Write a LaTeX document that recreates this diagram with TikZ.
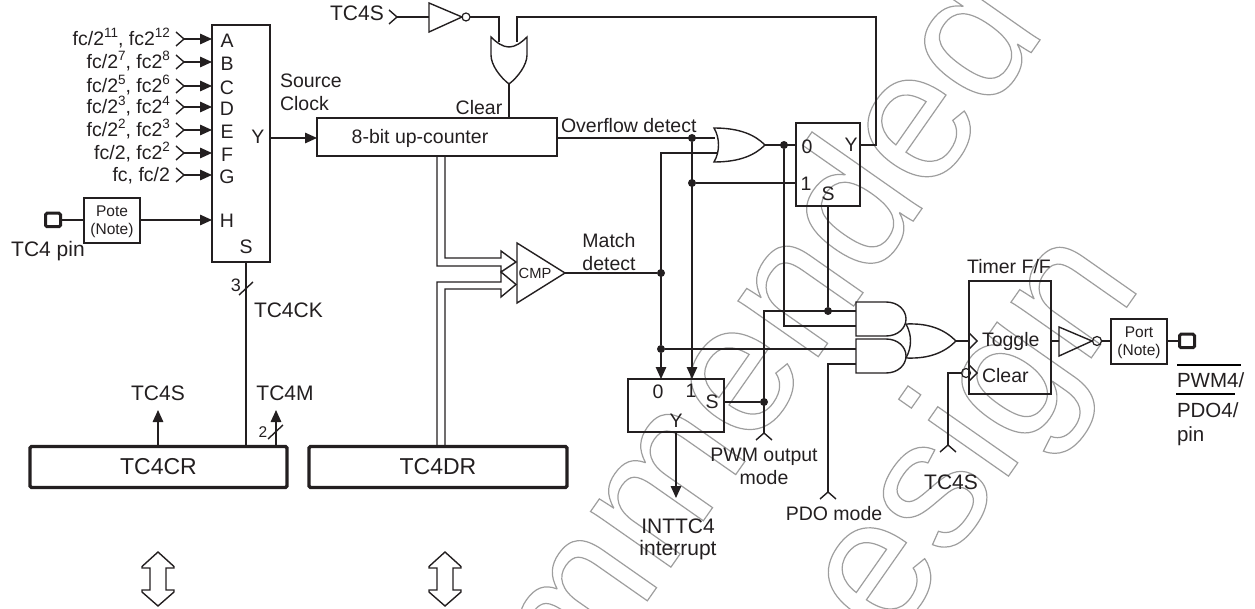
\documentclass[tikz,border=0pt]{standalone}
\usepackage{fontspec}
\setmainfont{Liberation Sans}
\usetikzlibrary{arrows.meta}
\definecolor{ink}{HTML}{231F20}
\newcommand{\supt}[1]{\raisebox{0.42em}{\fontsize{13.5}{13}\selectfont #1}}
\newcommand{\wmon}{\special{pdf:code 1 Tr 1.2 w 0.62 0.62 0.62 RG}}
\newcommand{\wmoff}{\special{pdf:code 0 Tr}}
\tikzset{
  lin/.style={draw=ink,line width=1.4pt,line join=miter},
  arr/.style={lin,-{Triangle[length=12pt,width=10.5pt]}},
  txt/.style={inner sep=0pt,outer sep=0pt,text=ink,anchor=base,yshift=-7pt,font=\fontsize{19.5}{22}\selectfont},
  txtl/.style={txt,anchor=base west},
  txtr/.style={txt,anchor=base east},
  tcfont/.style={font=\fontsize{21}{24}\selectfont},
  small/.style={inner sep=0pt,outer sep=0pt,text=ink,anchor=base,yshift=-5.5pt,font=\fontsize{15.5}{18}\selectfont},
  blk/.style={lin,rectangle,inner sep=0pt,outer sep=0pt},
  reg/.style={draw=ink,line width=3.2pt,rounded corners=1.5pt,rectangle,inner sep=0pt,outer sep=0pt,minimum width=#1,minimum height=41pt,font=\fontsize{23}{26}\selectfont,text=ink},
  pinbox/.style={draw=ink,line width=3pt,rounded corners=1.5pt,rectangle,inner sep=0pt,outer sep=0pt,minimum width=15pt,minimum height=13.5pt},
  dot/.style={circle,fill=ink,inner sep=0pt,outer sep=0pt,minimum size=8pt},
  bub/.style={circle,draw=ink,line width=1.2pt,fill=none,inner sep=0pt,outer sep=0pt,minimum size=8pt},
  wm/.style={inner sep=0pt,outer sep=0pt,rotate=55,anchor=base east,font=\fontsize{185}{185}\selectfont},
  hollow/.style={draw=ink,line width=1.4pt,line join=miter}
}
\begin{document}
\begin{tikzpicture}[x=1pt,y=-1pt]
\useasboundingbox (0,0) rectangle (1255,609);
% ---- watermark
\begin{scope}
\clip (0,0) rectangle (1255,609);
\node[wm] (wmone) at (1047,30) {\wmon mmended\wmoff};
\node[wm] (wmtwo) at (1143,284) {\wmon esign\wmoff};
\end{scope}
% ---- boxes
\node[blk,minimum width=58pt,minimum height=237pt] (mux) at (241,143.5) {};
\node[blk,minimum width=56pt,minimum height=45pt,align=center] (pote) at (112,220.5) {};
\node[small] (potea) at (112,211) {Pote};
\node[small] (poteb) at (112,229) {(Note)};
\node[pinbox] (pinin) at (53,220) {};
\node[txt,tcfont] (pinlab) at (48,250) {TC4 pin};
\node[blk,minimum width=240pt,minimum height=38pt] (cnt) at (437,137) {};
\node[txt] (cntlab) at (420,137) {8-bit up-counter};
\node[txt] (clearlab) at (479,108) {Clear};
\node[txtl] (ovf) at (561,126) {Overflow detect};
\node[txtl] (src1) at (280,81) {Source};
\node[txtl] (src2) at (280,104) {Clock};
\node[blk,minimum width=64pt,minimum height=83pt] (ffa) at (828,164.5) {};
\node[blk,minimum width=96pt,minimum height=53pt] (ffb) at (676,405.5) {};
\node[blk,minimum width=82pt,minimum height=113pt] (tff) at (1010,337.5) {};
\node[txt] (tfflab) at (1009,267) {Timer F/F};
\node[blk,minimum width=56pt,minimum height=45pt] (port) at (1139,341.5) {};
\node[small] (porta) at (1139,332) {Port};
\node[small] (portb) at (1139,350) {(Note)};
\node[pinbox] (pinout) at (1187,341) {};
\node[reg=257pt] (cr) at (158.5,467) {TC4CR};
\node[reg=258pt] (dr) at (438,467) {TC4DR};
% ---- mux inputs
\foreach \nm/\yy/\lt/\ll in {
  A/39/A/{fc/2\supt{11}, fc2\supt{12}},
  B/62/B/{fc/2\supt{7}, fc2\supt{8}},
  C/86/C/{fc/2\supt{5}, fc2\supt{6}},
  D/107/D/{fc/2\supt{3}, fc2\supt{4}},
  E/130/E/{fc/2\supt{2}, fc2\supt{3}},
  F/153/F/{fc/2, fc2\supt{2}},
  G/175/G/{fc, fc/2}}{
  \coordinate (in\nm) at (184,\yy);
  \draw[lin] (in\nm) ++(-8,-7) -- (in\nm) -- ++(-8,7);
  \draw[arr] (in\nm) -- (mux.west |- in\nm);
  \node[txt] (let\nm) at (227,\yy+2) {\lt};
  \node[txtr] (lab\nm) at (170,\yy) {\ll};
}
\node[txt] (letH) at (227,221) {H};
\node[txt] (letS) at (246,247) {S};
\node[txt] (letY) at (258,137) {Y};
\draw[lin] (pinin.east) -- (pote.west |- pinin.east);
\draw[arr] (pote.east |- pinin.east) -- (mux.west |- pinin.east);
\coordinate (yout) at (270,138);
\draw[arr] (yout) -- (cnt.west |- yout);
% ---- select bus
\coordinate (crs) at (246,446);
\draw[lin] (mux.south -| crs) -- (crs);
\coordinate (sla) at (239,295); \coordinate (slb) at (253,282);
\draw[lin] (sla) -- (slb);
\node[small,font=\fontsize{18}{20}\selectfont,yshift=-1pt] (three) at (236,285) {3};
\node[txtl,tcfont] (ck) at (254,311) {TC4CK};
% ---- TC4CR controls
\coordinate (sbase) at (158,446); \coordinate (stip) at (158,410);
\draw[arr] (sbase) -- (stip);
\node[txt,tcfont] (slab) at (158,393) {TC4S};
\coordinate (mbase) at (276,446); \coordinate (mtip) at (276,410);
\draw[arr] (mbase) -- (mtip);
\node[txt,tcfont] (mlab) at (285,393) {TC4M};
\coordinate (slc) at (268,439); \coordinate (sld) at (283,425);
\draw[lin] (slc) -- (sld);
\node[small] (two) at (263,432) {2};
% ---- top: TC4S, inverter, OR
\node[txt,tcfont] (top) at (357,14) {TC4S};
\coordinate (tin) at (397,17);
\draw[lin] (tin) ++(-8,-7) -- (tin) -- ++(-8,7);
\coordinate (ia) at (429,3); \coordinate (ib) at (429,32); \coordinate (ic) at (462,17);
\draw[lin] (ia) -- (ib) -- (ic) -- cycle;
\node[bub] (ibub) at (466,17) {};
\coordinate (il) at (429,17);
\draw[lin] (tin) -- (il);
\coordinate (orl) at (499,42); \coordinate (orr) at (517,42); \coordinate (ort) at (509,84);
\draw[lin] (ibub.east) -| (orl);
\draw[lin] (491,37) .. controls (497,43) and (503,47) .. (509,47) .. controls (515,47) and (521,43) .. (527,37)
   -- (527,55) .. controls (527,65) and (518,77) .. (ort) .. controls (500,77) and (491,65) .. (491,55) -- cycle;
\draw[lin] (ort) -- (cnt.north -| ort);
% ---- counter bus to comparator
\coordinate (cmpa) at (517,243); \coordinate (cmpb) at (517,303); \coordinate (cmpc) at (565,273);
\draw[lin] (cmpa) -- (cmpb) -- (cmpc) -- cycle;
\node[small,font=\fontsize{14.7}{16}\selectfont] (cmplab) at (535,273) {CMP};
\coordinate (ha) at (501,258); \coordinate (hb) at (501,266);
\coordinate (hc) at (501,282); \coordinate (hd) at (501,289);
\draw[hollow] (cnt.south -| 445,0) |- (ha) -- (501,251) -- (516,262) -- (501,272) -- (hb) -| (cnt.south -| 437,0);
\draw[hollow] (dr.north -| 437,0) |- (hc) -- (501,272) -- (516,284.5) -- (501,297) -- (hd) -| (dr.north -| 445,0);
% ---- match / overflow
\node[txt] (matcha) at (609,241) {Match};
\node[txt] (matchb) at (609,264) {detect};
\node[dot] (jm) at (661,273) {};
\draw[lin] (cmpc) -- (jm);
\coordinate (ovfl) at (715,138);
\node[dot] (jo) at (692,138) {};
\draw[lin] (cnt.east |- ovfl) -- (ovfl);
\coordinate (orb) at (717,153);
\coordinate (org) at (765,145);
\draw[lin] (714,128) .. controls (740,128) and (755,135) .. (org) .. controls (755,155) and (740,162) .. (714,162) .. controls (720,152) and (720,138) .. cycle;
\node[dot] (jx) at (784,145) {};
\draw[lin] (org) -- (ffa.west |- org);
\node[dot] (jf) at (692,183) {};
\draw[lin] (jf) -- (ffa.west |- jf);
\node[dot] (jb) at (661,349) {};
\draw[lin] (orb) -| (jb);
\draw[arr] (jb) -- (ffb.north -| jb);
\draw[arr] (jo) -- (ffb.north -| jo);
\node[txt] (ffa0) at (807,147) {0};
\node[txt] (ffa1) at (806,184) {1};
\node[txt] (ffaY) at (851,145) {Y};
\node[txt] (ffaS) at (828,194) {S};
\coordinate (fy) at (860,145);
\coordinate (fyr) at (876,17);
\draw[lin] (fy) -| (fyr) -- (orr |- fyr) -- (orr);
% ---- second mux
\node[txt] (ffb0) at (658,391) {0};
\node[txt] (ffb1) at (691,390) {1};
\node[txt] (ffbS) at (712,401) {S};
\node[txt] (ffbY) at (676,420) {Y};
\coordinate (inttip) at (676,498);
\draw[arr] (ffb.south) -- (inttip);
\node[txt,tcfont] (intl) at (678,526) {INTTC4};
\node[txt,tcfont] (intm) at (678,548) {interrupt};
% ---- AND gates
\coordinate (a1u) at (856,311); \coordinate (a1d) at (856,326);
\coordinate (a2u) at (856,349); \coordinate (a2d) at (856,364);
\draw[lin] (856,302) -- (886,302) .. controls (898,302) and (906,310) .. (906,319) .. controls (906,328) and (898,336) .. (886,336) -- (856,336) -- cycle;
\draw[lin] (856,339) -- (886,339) .. controls (898,339) and (906,347) .. (906,356) .. controls (906,365) and (898,373) .. (886,373) -- (856,373) -- cycle;
\coordinate (org3) at (956,341);
\draw[lin] (906,324) .. controls (930,323) and (945,330) .. (org3) .. controls (945,352) and (930,359) .. (906,358) .. controls (912,347) and (912,335) .. cycle;
\node[dot] (js) at (828,311) {};
\draw[lin] (ffa.south -| js) -- (js);
\coordinate (pwmtip) at (764,433);
\node[dot] (jp) at (764,402) {};
\draw[lin] (pwmtip) |- (a1u);
\draw[lin] (ffb.east |- jp) -- (jp);
\draw[lin] (pwmtip) ++(-8,7) -- (pwmtip) -- ++(8,7);
\draw[lin] (jx) |- (a1d);
\draw[lin] (jb) -- (a2u);
\coordinate (pdotip) at (828,492);
\draw[lin] (pdotip) |- (a2d);
\draw[lin] (pdotip) ++(-8,7) -- (pdotip) -- ++(8,7);
\node[txt] (pwma) at (764,454) {PWM output};
\node[txt] (pwmb) at (764,477) {mode};
\node[txt] (pdol) at (834,513) {PDO mode};
% ---- timer F/F
\draw[lin] (org3) -- (tff.west |- org3);
\coordinate (tg) at (977,341); \coordinate (cl) at (977,373);
\draw[lin] (969,333) -- (tg) -- (969,349);
\draw[lin] (969,365) -- (cl) -- (969,381);
\node[bub,minimum size=9pt] (cbub) at (966,373) {};
\coordinate (tstip) at (948,445);
\draw[lin] (tstip) |- (cbub.west);
\draw[lin] (tstip) ++(-8,7) -- (tstip) -- ++(8,7);
\node[txt,tcfont] (tslab) at (951,482) {TC4S};
\node[txtl] (tglab) at (982,340) {Toggle};
\node[txtl] (cllab) at (982,375) {Clear};
% ---- output
\coordinate (oa) at (1059,327); \coordinate (ob) at (1059,356); \coordinate (oc) at (1092,341);
\draw[lin] (oa) -- (ob) -- (oc) -- cycle;
\node[bub,minimum size=9pt] (obub) at (1097,341) {};
\draw[lin] (tff.east |- oc) -- (oa |- oc);
\draw[lin] (obub.east) -- (port.west |- obub);
\draw[lin] (port.east |- pinout) -- (pinout.west);
\coordinate (ol1a) at (1177,365); \coordinate (ol1b) at (1241,365);
\coordinate (ol2a) at (1176,394); \coordinate (ol2b) at (1235,394);
\draw[black,line width=1.6pt] (ol1a) -- (ol1b);
\draw[black,line width=1.6pt] (ol2a) -- (ol2b);
\node[txtl,font=\fontsize{20.5}{24}\selectfont] (outa) at (1177,381) {PWM4/};
\node[txtl,font=\fontsize{20.5}{24}\selectfont] (outb) at (1177,410) {PDO4/};
\node[txtl,font=\fontsize{20.5}{24}\selectfont] (outc) at (1177,434) {pin};
% ---- bus double arrows
\foreach \cx in {158,445}{
  \draw[hollow] (\cx,552) -- (\cx+16,566.5) -- (\cx+16,568) -- (\cx+8,568) -- (\cx+8,590) -- (\cx+16,590) -- (\cx+16,592) -- (\cx,606) -- (\cx-16,592) -- (\cx-16,590) -- (\cx-8,590) -- (\cx-8,568) -- (\cx-16,568) -- (\cx-16,566.5) -- cycle;
}
\end{tikzpicture}
\end{document}
